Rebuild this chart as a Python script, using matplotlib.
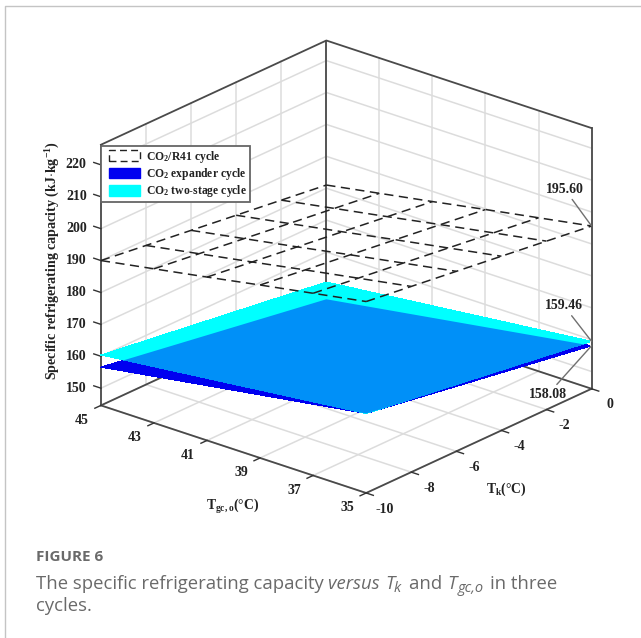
import matplotlib
matplotlib.use("Agg")
import numpy as np
import matplotlib.pyplot as plt
from matplotlib.patches import Patch
from matplotlib.lines import Line2D
from matplotlib.path import Path
from matplotlib.transforms import IdentityTransform
from mpl_toolkits.mplot3d import proj3d

plt.rcParams['mathtext.fontset'] = 'custom'
plt.rcParams['mathtext.rm'] = 'Liberation Serif:bold'
plt.rcParams['mathtext.it'] = 'Liberation Serif:bold'
plt.rcParams['mathtext.bf'] = 'Liberation Serif:bold'
plt.rcParams['mathtext.default'] = 'rm'

# ---------- data ----------
tk_ticks = [-10, -8, -6, -4, -2, 0]
tgc_ticks = [45, 43, 41, 39, 37, 35]
z_ticks = [150, 160, 170, 180, 190, 200, 210, 220]
r41_rows = [
    [190.0, 188.2, 186.4, 184.6, 182.8, 181.0],
    [192.9, 191.1, 189.3, 187.5, 185.7, 183.9],
    [195.8, 194.0, 192.2, 190.4, 188.6, 186.8],
    [198.8, 197.0, 195.2, 193.4, 191.6, 189.8],
    [201.7, 199.9, 198.1, 196.3, 194.5, 192.7],
    [204.6, 202.8, 201.0, 199.2, 197.4, 195.6],
]
corner_tk = [-10, 0]
corner_tgc = [45, 35]
expander_rows = [[156.6, 145.2], [169.5, 158.08]]
twostage_rows = [[160.4, 150.6], [169.5, 159.46]]
z_min, z_max = 144.6, 226.3
series_names = ["CO$_2$/R41 cycle", "CO$_2$ expander cycle", "CO$_2$ two-stage cycle"]

SERIF = 'Liberation Serif'
W, H = 641, 638
fig = plt.figure(figsize=(W / 100, H / 100), dpi=100, facecolor='white')

# card edge (top and left only)
fig.add_artist(Line2D([4.5, 4.5, W], [0, H - 5.5, H - 5.5], transform=IdentityTransform(),
                      color='#c4c4c4', lw=1.0))

side = 500
cx, cy = 339.5, 273.5
ax = fig.add_axes([(cx - side / 2) / W, (H - cy - side / 2) / H, side / W, side / H],
                  projection='3d', proj_type='ortho', computed_zorder=False)
ax.patch.set_alpha(0)
ax.set_xlim(-10, 0)
ax.set_ylim(35, 45)
ax.set_zlim(z_min, z_max)
ax.set_box_aspect((349, 347, 283), zoom=1.103)
ax.view_init(elev=23.0, azim=220.2)
ax.set_axis_off()

GRID = dict(color='#dcdcdc', lw=1.1, zorder=1, clip_on=False)
BOX = dict(color='#4a4a4a', lw=1.3, zorder=2, clip_on=False)
TICK = dict(color='#333333', lw=1.0, zorder=2, clip_on=False)

# back walls and floor grid
for t in tk_ticks:
    ax.plot([t, t], [45, 45], [z_min, z_max], **GRID)
    ax.plot([t, t], [35, 45], [z_min, z_min], **GRID)
for g in tgc_ticks:
    ax.plot([0, 0], [g, g], [z_min, z_max], **GRID)
    ax.plot([-10, 0], [g, g], [z_min, z_min], **GRID)
for z in z_ticks:
    ax.plot([-10, 0], [45, 45], [z, z], **GRID)
    ax.plot([0, 0], [45, 35], [z, z], **GRID)

# box outline
ax.plot([-10, 0, 0], [45, 45, 35], [z_max, z_max, z_max], **BOX)
ax.plot([-10, 0, 0], [45, 45, 35], [z_min, z_min, z_min], **BOX)
ax.plot([-10, -10], [45, 45], [z_min, z_max], **BOX)
ax.plot([0, 0], [45, 45], [z_min, z_max], **BOX)
ax.plot([0, 0], [35, 35], [z_min, z_max], **BOX)
ax.plot([-10, -10, 0], [45, 35, 35], [z_min, z_min, z_min], **BOX)

# tick marks
for g in tgc_ticks:
    ax.plot([-10, -10.27], [g, g], [z_min, z_min], **TICK)
for t in tk_ticks:
    ax.plot([t, t], [35, 34.73], [z_min, z_min], **TICK)
for z in z_ticks:
    ax.plot([-10, -10], [45, 45.27], [z, z], **TICK)

# surfaces
Tk, Tgc = np.meshgrid(corner_tk, corner_tgc)
EXP = np.array(expander_rows)
TWO = np.array(twostage_rows)
ax.plot_surface(Tk, Tgc, EXP, color='#0000f0', shade=False, lw=0, antialiased=False, zorder=3)
ax.plot_surface(Tk, Tgc, TWO, color='#00ffff', shade=False, lw=0, antialiased=False, zorder=3.1)
overlap = ax.plot_surface(Tk, Tgc, TWO, color='#0090f8', shade=False, lw=0, antialiased=False, zorder=3.2)

fig.canvas.draw()


def project(x, y, z):
    px, py, _ = proj3d.proj_transform(x, y, z, ax.get_proj())
    return px, py


def to_pixels(x, y, z):
    return ax.transData.transform(project(x, y, z))


# the overlap colour shows only where the expander surface lies behind the two-stage one
outline = [to_pixels(Tk[i, j], Tgc[i, j], EXP[i, j]) for i, j in [(0, 0), (0, 1), (1, 1), (1, 0), (0, 0)]]
overlap.set_clip_path(Path(outline), IdentityTransform())

# tick labels, placed at their projected 3D positions
lab = dict(family=SERIF, weight='bold', fontsize=10, color='#222222', ha='center', va='center', zorder=6)
for g in tgc_ticks:
    ax.text2D(*project(-10.85, g, z_min - 1.8), str(g), **lab)
for t in tk_ticks:
    ax.text2D(*project(t, 34.32, z_min - 3.2), str(t), **lab)
for z in z_ticks:
    ax.text2D(*project(-10, 45.93, z - 2.6), str(z), **lab)

# R41 dashed mesh
R41 = np.array(r41_rows)
DASH = dict(color='#222222', lw=1.1, ls=(0, (6, 3.6)), zorder=4, clip_on=False)
for i, g in enumerate(tgc_ticks):
    ax.plot(tk_ticks, [g] * 6, R41[i], **DASH)
for j, t in enumerate(tk_ticks):
    ax.plot([t] * 6, tgc_ticks, R41[:, j], **DASH)

# value callouts
callouts = [(0, 35, R41[5, 5], "195.60", (-27, 37)),
            (0, 35, TWO[1, 1], "159.46", (-28, 36)),
            (0, 35, EXP[1, 1], "158.08", (-44, -49))]
for x, y, z, s, off in callouts:
    ax.annotate(s, xy=project(x, y, z), xycoords='data', xytext=off, textcoords='offset pixels',
                family=SERIF, weight='bold', fontsize=10, color='#222222', ha='center', va='center',
                arrowprops=dict(arrowstyle='-', color='#707070', lw=1.0, shrinkA=1, shrinkB=0),
                annotation_clip=False, zorder=6)

# axis labels
fig.text(53 / W, 1 - 260 / H, "Specific refrigerating capacity (kJ$\\cdot$kg$^{-1}$)", rotation=90,
         family=SERIF, weight='bold', fontsize=10.1, color='#222222', ha='center', va='center')
fig.text(233 / W, 1 - 507 / H, "T$_{\\mathrm{gc,o}}$(°C)", family=SERIF, weight='bold', fontsize=9.8,
         color='#222222', ha='center', va='center')
fig.text(506 / W, 1 - 489 / H, "T$_{\\mathrm{k}}$(°C)", family=SERIF, weight='bold', fontsize=9.8,
         color='#222222', ha='center', va='center')

# legend
handles = [Patch(fc='white', ec='#222222', ls=(0, (5, 3)), lw=1.0),
           Patch(fc='#0000f0', ec='#0000f0'),
           Patch(fc='#00ffff', ec='#00ffff')]
leg = ax.legend(handles, series_names, loc='upper left', bbox_to_anchor=(101 / W, 1 - 146 / H),
                bbox_transform=fig.transFigure, borderaxespad=0, fancybox=False, framealpha=1,
                edgecolor='#666666', prop=dict(family=SERIF, weight='bold', size=8.4),
                labelspacing=0.12, handlelength=3.2, handleheight=1.0, handletextpad=0.45,
                borderpad=0.22, labelcolor='#222222')
leg.get_frame().set_linewidth(1.3)
leg.set_zorder(10)
for h in leg.legend_handles:
    h.set_x(h.get_x() + 4)
    h.set_width(h.get_width() - 5)

# caption
CAP = '#6a6a6a'
fig.text(36 / W, 1 - 557 / H, "FIGURE 6", family='Open Sans', weight='bold', fontsize=11, color=CAP,
         ha='left', va='center')


def run_text(x, base, pieces):
    renderer = fig.canvas.get_renderer()
    for s, size, style, dy, gap in pieces:
        t = fig.text(x / W, 1 - (base + dy) / H, s, family='Open Sans', style=style, fontsize=size,
                     color=CAP, ha='left', va='baseline')
        x = t.get_window_extent(renderer).x1 + gap
    return x


run_text(36, 589, [("The specific refrigerating capacity ", 13.3, 'normal', 0, 0),
                   ("versus ", 13.3, 'italic', 0, 0),
                   ("T", 13.3, 'italic', 0, 0), ("k ", 10.5, 'italic', 3, 4),
                   ("and ", 13.3, 'normal', 0, 0),
                   ("T", 13.3, 'italic', 0, 1), ("gc,o ", 10.5, 'italic', 3, 3),
                   ("in three", 13.3, 'normal', 0, 0)])
run_text(36, 611, [("cycles.", 13.3, 'normal', 0, 0)])

fig.savefig('out.png', dpi=100, facecolor='white')
